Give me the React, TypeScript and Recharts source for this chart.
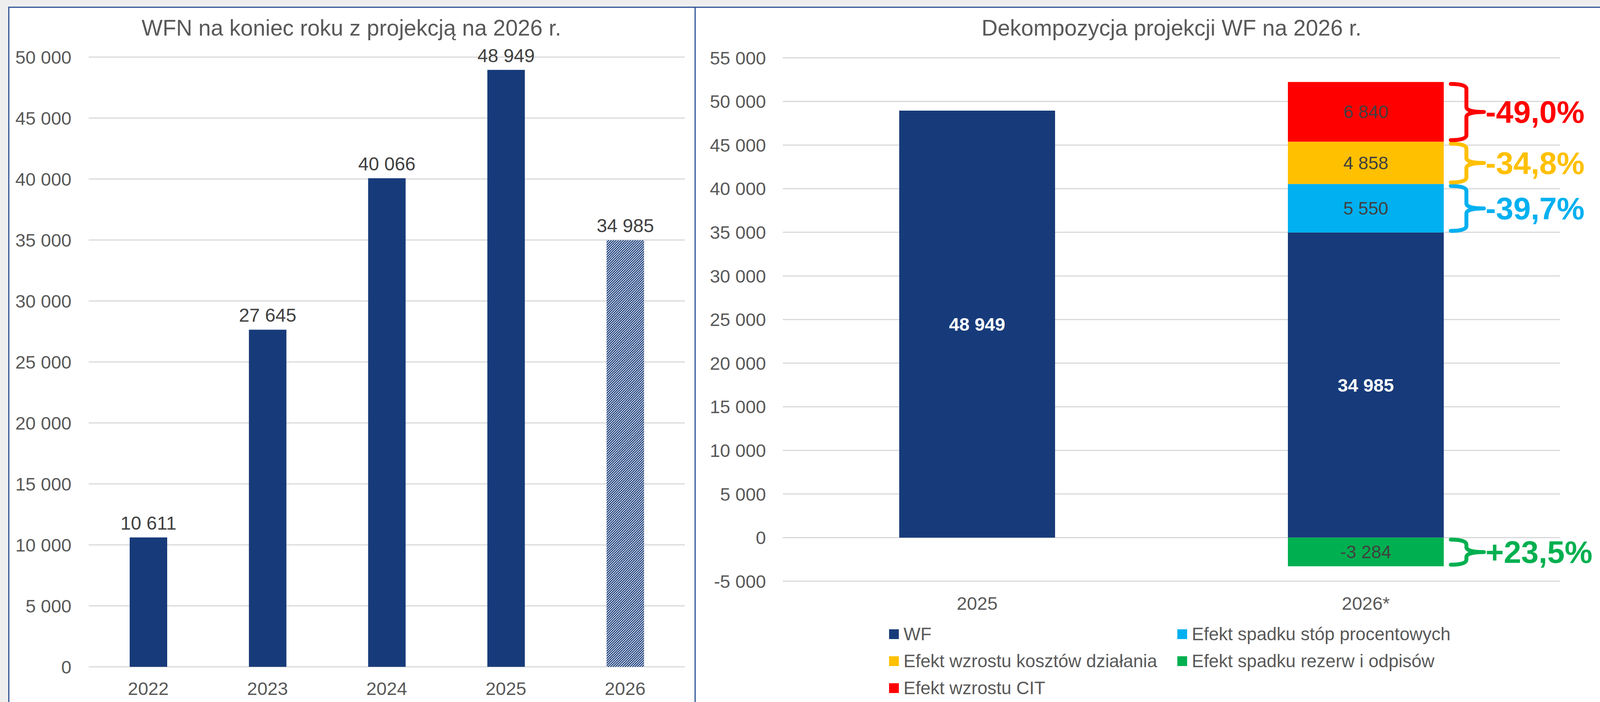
import React from "react";
import { Bar, BarChart, CartesianGrid, Cell, LabelList, Legend, XAxis, YAxis } from "recharts";

const FONT = "'Liberation Sans', Arial, Helvetica, sans-serif";
const NAVY = "#173B7A";
const AXIS_GREY = "#595959";
const LABEL_GREY = "#404040";
const GRID = "#D9D9D9";
const FRAME = "#2F5597";

// left chart: WFN na koniec roku
const years = ["2022", "2023", "2024", "2025", "2026"];
const wfnValues = [10611, 27645, 40066, 48949, 34985];
const projectedYear = "2026";
const leftTicks = [0, 5000, 10000, 15000, 20000, 25000, 30000, 35000, 40000, 45000, 50000];

// right chart: dekompozycja projekcji WF
const decompCats = ["2025", "2026*"];
const wfValues = [48949, 34985];
const stopyValues = [null, 5550];
const kosztyValues = [null, 4858];
const rezerwyValues = [null, -3284];
const citValues = [null, 6840];
const stopyShares = [null, "-39,7%"];
const kosztyShares = [null, "-34,8%"];
const rezerwyShares = [null, "+23,5%"];
const citShares = [null, "-49,0%"];
const rightTicks = [-5000, 0, 5000, 10000, 15000, 20000, 25000, 30000, 35000, 40000, 45000, 50000, 55000];

const effects = [
  { key: "stopy", name: "Efekt spadku stóp procentowych", color: "#00B0F0", values: stopyValues, shares: stopyShares },
  { key: "koszty", name: "Efekt wzrostu kosztów działania", color: "#FFC000", values: kosztyValues, shares: kosztyShares },
  { key: "rezerwy", name: "Efekt spadku rezerw i odpisów", color: "#00B050", values: rezerwyValues, shares: rezerwyShares },
  { key: "cit", name: "Efekt wzrostu CIT", color: "#FF0000", values: citValues, shares: citShares },
];

const leftData = years.map((y, i) => ({ year: y, wfn: wfnValues[i] }));

const rightData = decompCats.map((c, i) => {
  const row: Record<string, any> = { cat: c, wf: wfValues[i] };
  effects.forEach((e) => (row[e.key] = e.values[i]));
  return row;
});

const fmt = (v: any) => {
  if (v == null || v === "") return "";
  const n = Number(v);
  const s = String(Math.abs(n)).replace(/\B(?=(\d{3})+(?!\d))/g, " ");
  return n < 0 ? "-" + s : s;
};

// segment label + curly brace with the share text
const effectLabel = (color: string, values: (number | null)[], shares: (string | null)[]) => (props: any) => {
  const { value } = props;
  if (value == null || value === 0) return null;
  const vb = props.viewBox || props;
  const x = vb.x ?? props.x;
  const y = vb.y ?? props.y;
  const w = vb.width ?? props.width;
  const h = vb.height ?? props.height;
  const top = Math.min(y, y + h);
  const hh = Math.abs(h);
  const bot = top + hh;
  const cx = x + w / 2;
  const cy = top + hh / 2;
  const idx = values.findIndex((v) => v === Number(value));
  const share = idx >= 0 ? shares[idx] : null;
  const bTop = top + 5;
  const bBot = bot - 4;
  const mid = (bTop + bBot) / 2;
  const x0 = x + w + 18;
  const xs = x0 + 40;
  const xt = x0 + 85;
  const r = 13;
  const d = `M${x0},${bTop} Q${xs},${bTop} ${xs},${bTop + r} L${xs},${mid - r} Q${xs},${mid} ${xt},${mid} Q${xs},${mid} ${xs},${mid + r} L${xs},${bBot - r} Q${xs},${bBot} ${x0},${bBot}`;
  return (
    <g>
      <text x={cx} y={cy} textAnchor="middle" dominantBaseline="central" fill={LABEL_GREY} fontSize={46} fontFamily={FONT}>
        {fmt(value)}
      </text>
      {share && (
        <>
          <path d={d} fill="none" stroke={color} strokeWidth={10} strokeLinecap="round" strokeLinejoin="round" />
          <text x={xt + 4} y={mid} dominantBaseline="central" fill={color} fontSize={80} fontWeight="bold" fontFamily={FONT}>
            {share}
          </text>
        </>
      )}
    </g>
  );
};

const legendItems = [
  { name: "WF", color: NAVY },
  { name: effects[0].name, color: effects[0].color },
  { name: effects[1].name, color: effects[1].color },
  { name: effects[2].name, color: effects[2].color },
  { name: effects[3].name, color: effects[3].color },
];

function DecompLegend() {
  return (
    <div style={{ display: "grid", gridTemplateColumns: "738px 738px", fontFamily: FONT, fontSize: 46, lineHeight: "69px", color: AXIS_GREY }}>
      {legendItems.map((it) => (
        <div key={it.name} style={{ display: "flex", alignItems: "center", whiteSpace: "nowrap" }}>
          <span style={{ display: "inline-block", width: 25, height: 25, background: it.color, marginRight: 12 }} />
          <span>{it.name}</span>
        </div>
      ))}
    </div>
  );
}

const titleStyle: React.CSSProperties = {
  position: "absolute",
  top: 38,
  height: 66,
  lineHeight: "66px",
  textAlign: "center",
  fontSize: 57,
  color: AXIS_GREY,
  fontFamily: FONT,
  whiteSpace: "nowrap",
};

export default function App() {
  return (
    <div style={{ position: "absolute", left: 0, top: 0, width: 4168, height: 1796, background: "#EEEEEE", overflow: "hidden", fontFamily: FONT }}>
      <div style={{ position: "absolute", left: 21, top: 17, right: 0, bottom: 0, background: "#fff", borderTop: `3px solid ${FRAME}`, borderLeft: `3px solid ${FRAME}` }} />
      <div style={{ position: "absolute", left: 1778, top: 17, width: 3, height: 1779, background: FRAME }} />

      <div style={{ ...titleStyle, left: 21, width: 1757 }}>WFN na koniec roku z projekcją na 2026 r.</div>
      <div style={{ ...titleStyle, left: 2004, width: 1990 }}>Dekompozycja projekcji WF na 2026 r.</div>

      <div style={{ position: "absolute", left: 0, top: 0 }}>
        <BarChart width={1780} height={1796} data={leftData} margin={{ top: 146, right: 27, bottom: 0, left: 0 }} style={{ fontFamily: FONT }}>
          <defs>
            <pattern id="hatch26" patternUnits="userSpaceOnUse" width={4.4} height={4.4} patternTransform="rotate(45)">
              <rect x={0} y={0} width={4.4} height={4.4} fill="#ffffff" />
              <rect x={0} y={0} width={2.7} height={4.4} fill={NAVY} />
            </pattern>
          </defs>
          <CartesianGrid vertical={false} stroke={GRID} strokeWidth={3} />
          <XAxis
            dataKey="year"
            height={90}
            axisLine={false}
            tickLine={false}
            tickSize={0}
            tickMargin={39}
            tick={{ fill: AXIS_GREY, fontSize: 47, fontFamily: FONT }}
          />
          <YAxis
            width={227}
            domain={[0, 50000]}
            ticks={leftTicks}
            interval={0}
            axisLine={false}
            tickLine={false}
            tickSize={0}
            tickMargin={44}
            tickFormatter={fmt}
            tick={{ fill: AXIS_GREY, fontSize: 47, fontFamily: FONT }}
          />
          <Bar dataKey="wfn" barSize={96} fill={NAVY} isAnimationActive={false}>
            {leftData.map((d) => (
              <Cell key={d.year} fill={d.year === projectedYear ? "url(#hatch26)" : NAVY} />
            ))}
            <LabelList dataKey="wfn" position="top" offset={20} formatter={fmt} fill={LABEL_GREY} fontSize={48} fontFamily={FONT} />
          </Bar>
        </BarChart>
      </div>

      <div style={{ position: "absolute", left: 1780, top: 0 }}>
        <BarChart
          width={2388}
          height={1796}
          data={rightData}
          stackOffset="sign"
          margin={{ top: 148, right: 174, bottom: 0, left: 0 }}
          style={{ fontFamily: FONT }}
        >
          <CartesianGrid vertical={false} stroke={GRID} strokeWidth={3} />
          <XAxis
            dataKey="cat"
            height={309}
            axisLine={false}
            tickLine={false}
            tickSize={0}
            tickMargin={40}
            tick={{ fill: AXIS_GREY, fontSize: 47, fontFamily: FONT }}
          />
          <YAxis
            width={224}
            domain={[-5000, 55000]}
            ticks={rightTicks}
            interval={0}
            axisLine={false}
            tickLine={false}
            tickSize={0}
            tickMargin={43}
            tickFormatter={fmt}
            tick={{ fill: AXIS_GREY, fontSize: 47, fontFamily: FONT }}
          />
          <Legend
            layout="horizontal"
            verticalAlign="middle"
            align="center"
            wrapperStyle={{ top: 1588, left: 496, width: 1500, height: 210 }}
            content={() => <DecompLegend />}
          />
          <Bar dataKey="wf" name="WF" stackId="s" barSize={399} fill={NAVY} isAnimationActive={false}>
            <LabelList dataKey="wf" position="center" formatter={fmt} fill="#ffffff" fontWeight="bold" fontSize={47} fontFamily={FONT} />
          </Bar>
          {effects.map((e) => (
            <Bar key={e.key} dataKey={e.key} name={e.name} stackId="s" barSize={399} fill={e.color} isAnimationActive={false}>
              <LabelList dataKey={e.key} content={effectLabel(e.color, e.values, e.shares)} />
            </Bar>
          ))}
        </BarChart>
      </div>
    </div>
  );
}
